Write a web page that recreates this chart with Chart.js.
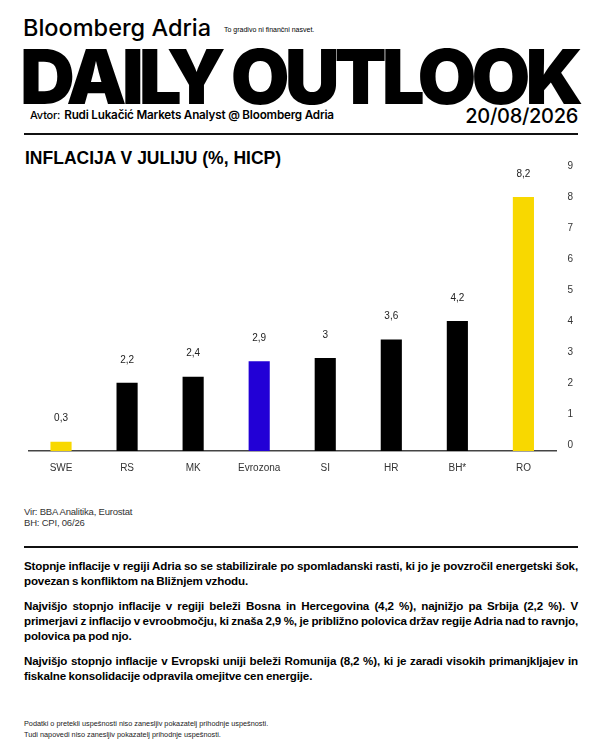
<!DOCTYPE html>
<html>
<head>
<meta charset="utf-8">
<script src="https://cdn.jsdelivr.net/npm/chart.js@4.4.1/dist/chart.umd.min.js"></script>
<style>
  html, body { margin: 0; padding: 0; background: #fff; }
  body { width: 600px; height: 750px; position: relative; overflow: hidden; font-family: "Liberation Sans", Arial, sans-serif; color: #000; }
  .abs { position: absolute; white-space: nowrap; }
  #brand { left: 23px; top: 13px; font-family: Inter, sans-serif; font-size: 23.5px; font-weight: 500; letter-spacing: 0; }
  #disclaimerTop { left: 224px; top: 26px; font-size: 7px; letter-spacing: 0; }
  #daily { left: 20px; top: 36px; font-family: Inter, sans-serif; font-size: 76px; font-weight: 900; letter-spacing: -5px; line-height: 80px; }
  #author { left: 30px; top: 108px; font-family: Inter, sans-serif; font-size: 11.7px; font-weight: 600; letter-spacing: -0.2px; }
  #author span { font-size: 11px; font-weight: 500; margin-right: 4px; }
  #date { right: 22px; top: 104px; font-family: Inter, sans-serif; font-size: 20px; font-weight: 500; letter-spacing: -0.3px; }
  .rule { position: absolute; left: 24px; width: 554px; height: 2px; background: #111; }
  #title { left: 25px; top: 148px; font-size: 17.5px; font-weight: bold; letter-spacing: 0; }
  #chartBox { position: absolute; left: 28px; top: 140px; width: 572px; height: 345px; }
  #source { left: 24px; top: 506px; font-size: 9.5px; line-height: 11px; color: #333; letter-spacing: -0.2px; }
  #text { position: absolute; left: 24px; top: 558px; width: 554px; font-size: 11.6px; font-weight: bold; line-height: 15px; letter-spacing: -0.15px; word-spacing: -0.5px; text-align: justify; }
  #text p { margin: 0 0 10px 0; }
  #footer { left: 24px; top: 718px; font-size: 7.3px; line-height: 11px; color: #222; letter-spacing: 0; }
</style>
</head>
<body>
<div class="abs" id="brand">Bloomberg Adria</div>
<div class="abs" id="disclaimerTop">To gradivo ni finančni nasvet.</div>
<div class="abs" id="daily">DAILY OUTLOOK</div>
<div class="abs" id="author"><span>Avtor:</span>Rudi Lukačić Markets Analyst @ Bloomberg Adria</div>
<div class="abs" id="date">20/08/2026</div>
<div class="rule" style="top:133px"></div>
<div class="abs" id="title">INFLACIJA V JULIJU (%, HICP)</div>
<div id="chartBox"><canvas id="myChart"></canvas></div>
<div class="abs" id="source">Vir: BBA Analitika, Eurostat<br>BH: CPI, 06/26</div>
<div class="rule" style="top:546px"></div>
<div id="text">
  <p>Stopnje inflacije v regiji Adria so se stabilizirale po spomladanski rasti, ki jo je povzročil energetski šok, povezan s konfliktom na Bližnjem vzhodu.</p>
  <p>Najvišjo stopnjo inflacije v regiji beleži Bosna in Hercegovina (4,2 %), najnižjo pa Srbija (2,2 %). V primerjavi z inflacijo v evroobmočju, ki znaša 2,9 %, je približno polovica držav regije Adria nad to ravnjo, polovica pa pod njo.</p>
  <p>Najvišjo stopnjo inflacije v Evropski uniji beleži Romunija (8,2 %), ki je zaradi visokih primanjkljajev in fiskalne konsolidacije odpravila omejitve cen energije.</p>
</div>
<div class="abs" id="footer">Podatki o pretekli uspešnosti niso zanesljiv pokazatelj prihodnje uspešnosti.<br>Tudi napovedi niso zanesljiv pokazatelj prihodnje uspešnosti.</div>

<script>
// Chart data
const categories = ['SWE', 'RS', 'MK', 'Evrozona', 'SI', 'HR', 'BH*', 'RO'];
const inflation = [0.3, 2.2, 2.4, 2.9, 3, 3.6, 4.2, 8.2];
const barColors = ['#f8d800', '#000000', '#000000', '#2200d6', '#000000', '#000000', '#000000', '#f8d800'];
const yTicks = [0, 1, 2, 3, 4, 5, 6, 7, 8, 9];

// Value labels above the bars
const valueLabels = {
    id: 'valueLabels',
    afterDatasetsDraw(chart) {
        const ctx = chart.ctx;
        const meta = chart.getDatasetMeta(0);
        ctx.save();
        ctx.font = '10px "Liberation Sans", Arial, sans-serif';
        ctx.fillStyle = '#222';
        ctx.textAlign = 'center';
        ctx.textBaseline = 'middle';
        meta.data.forEach(function (bar, i) {
            const txt = String(inflation[i]).replace('.', ',');
            ctx.fillText(txt, bar.x, bar.y - 23);
        });
        ctx.restore();
    }
};

function initializeChart() {
    const ctx = document.getElementById('myChart').getContext('2d');

    new Chart(ctx, {
        type: 'bar',
        data: {
            labels: categories,
            datasets: [{
                data: inflation,
                backgroundColor: barColors,
                borderWidth: 0,
                categoryPercentage: 1,
                barPercentage: 0.32,
                yAxisID: 'y'
            }]
        },
        options: {
            responsive: true,
            maintainAspectRatio: false,
            animation: false,
            layout: { padding: { top: 26, right: 16, left: 0, bottom: 0 } },
            plugins: {
                legend: { display: false },
                tooltip: { enabled: false }
            },
            scales: {
                x: {
                    grid: { display: false, drawTicks: false },
                    border: { display: true, color: '#444', width: 1.5 },
                    ticks: {
                        color: '#333',
                        padding: 11,
                        font: { size: 10, family: '"Liberation Sans", Arial, sans-serif' }
                    }
                },
                y: {
                    display: false,
                    min: 0,
                    max: 9.2
                },
                yl: {
                    position: 'right',
                    min: -0.2,
                    max: yTicks[yTicks.length - 1],
                    grid: { display: false, drawTicks: false },
                    border: { display: false },
                    afterBuildTicks(scale) {
                        scale.ticks = yTicks.map(function (v) { return { value: v }; });
                    },
                    ticks: {
                        color: '#333',
                        padding: 11,
                        font: { size: 10, family: '"Liberation Sans", Arial, sans-serif' }
                    }
                }
            }
        },
        plugins: [valueLabels]
    });
}

initializeChart();
</script>
</body>
</html>
